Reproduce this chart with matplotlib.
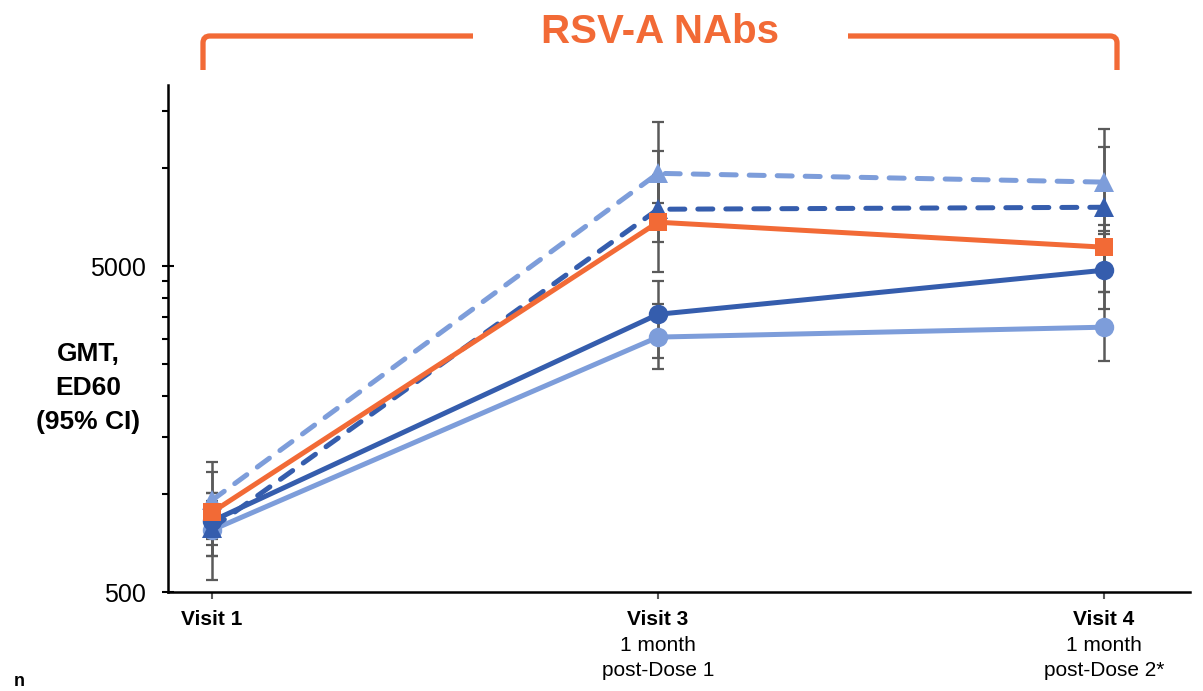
import matplotlib
matplotlib.use("Agg")
import matplotlib.pyplot as plt
from matplotlib.path import Path
from matplotlib.patches import PathPatch
from matplotlib.ticker import FixedLocator, NullFormatter

# ---------------- data ----------------
visits = ["Visit 1", "Visit 3", "Visit 4"]
visit_sub = ["", "1 month\npost-Dose 1", "1 month\npost-Dose 2*"]

# GMT values (ED60) per series
light_circle = [775, 3030, 3250]
light_circle_lo = [645, 2415, 2555]
light_circle_hi = [950, 3820, 4160]

dark_circle = [826, 3560, 4860]
dark_circle_lo = [727, 2610, 3690]
dark_circle_hi = [1006, 4500, 6400]

light_tri = [957, 9640, 9060]
light_tri_lo = [697, 7800, 6270]
light_tri_hi = [1253, 13900, 13160]

dark_tri = [785, 7480, 7585]
dark_tri_lo = [544, 5920, 5035]
dark_tri_hi = [1006, 11270, 11590]

orange_sq = [879, 6825, 5720]
orange_sq_lo = [645, 4790, 4160]
orange_sq_hi = [1167, 9500, 6680]

title = "RSV-A NAbs"
ylabel = "GMT,\nED60\n(95% CI)"
ytick_major = [500, 5000]
ytick_minor = [1000, 1500, 2000, 2500, 3000, 3500, 4000, 4500, 10000, 15000]

ORANGE = "#F26A36"
DARK = "#355DAD"
LIGHT = "#7D9DDA"
GRAY = "#5A5A5A"

plt.rcParams["font.family"] = ["Liberation Sans", "DejaVu Sans"]

W, H = 1203, 691
fig = plt.figure(figsize=(W / 100, H / 100), dpi=100)
ax = fig.add_axes([168 / W, 1 - 592 / H, (1190 - 168) / W, (592 - 85) / H])

x = list(range(len(visits)))

series = [
    (light_circle, light_circle_lo, light_circle_hi, LIGHT, "o", "-", 14),
    (dark_circle, dark_circle_lo, dark_circle_hi, DARK, "o", "-", 14),
    (light_tri, light_tri_lo, light_tri_hi, LIGHT, "^", "--", 15),
    (dark_tri, dark_tri_lo, dark_tri_hi, DARK, "^", "--", 15),
    (orange_sq, orange_sq_lo, orange_sq_hi, ORANGE, "s", "-", 13),
]

for i, (v, lo, hi, c, m, ls, ms) in enumerate(series):
    yerr = [[a - b for a, b in zip(v, lo)], [b - a for a, b in zip(v, hi)]]
    ax.errorbar(x, v, yerr=yerr, fmt="none", ecolor=GRAY, elinewidth=1.8,
                capsize=4.5, capthick=1.6, zorder=2)
for i, (v, lo, hi, c, m, ls, ms) in enumerate(series):
    line, = ax.plot(x, v, color=c, marker=m, markersize=ms, linewidth=3.6,
                    linestyle=ls, zorder=3 + i, markeredgewidth=0,
                    solid_capstyle="round", dash_capstyle="round")
    if ls == "--":
        line.set_dashes((3.0, 2.6))

ax.set_yscale("log")
ax.set_ylim(500, 18000)
ax.set_xlim(-0.099, 2.193)

ax.yaxis.set_major_locator(FixedLocator(ytick_major))
ax.yaxis.set_minor_locator(FixedLocator(ytick_minor))
ax.yaxis.set_minor_formatter(NullFormatter())
ax.set_yticklabels([str(t) for t in ytick_major])
ax.tick_params(axis="y", which="major", direction="inout", length=9, width=1.5,
               labelsize=18, pad=11.5)
ax.tick_params(axis="y", which="minor", direction="out", length=4, width=1.5)

ax.set_xticks(x)
ax.set_xticklabels([""] * len(x))
ax.tick_params(axis="x", which="major", direction="out", length=5, width=1.5,
               color=GRAY)

for s in ["top", "right"]:
    ax.spines[s].set_visible(False)
for s in ["left", "bottom"]:
    ax.spines[s].set_linewidth(1.8)

for xi, lab, sub in zip(x, visits, visit_sub):
    ax.annotate(lab, xy=(xi, 0), xycoords=("data", "axes fraction"),
                xytext=(0, -20), textcoords="offset points", ha="center",
                va="center", fontsize=15, fontweight="bold")
    if sub:
        ax.annotate(sub, xy=(xi, 0), xycoords=("data", "axes fraction"),
                    xytext=(0, -32), textcoords="offset points", ha="center",
                    va="top", fontsize=15, linespacing=1.38)

fig.text(88 / W, 1 - 388 / H, ylabel, ha="center", va="center",
         fontsize=19, fontweight="bold", multialignment="center",
         linespacing=1.55)

fig.text(660 / W, 1 - 32 / H, title, ha="center", va="center",
         fontsize=29, fontweight="bold", color=ORANGE)

fig.text(14 / W, 1 - 682 / H, "n", ha="left", va="center", fontsize=13,
         fontweight="bold")


def fx(px):
    return px / W


def fy(py):
    return 1 - py / H


r = 7
left_path = Path(
    [(fx(203), fy(70)), (fx(203), fy(36 + r)), (fx(203), fy(36)),
     (fx(203 + r), fy(36)), (fx(473), fy(36))],
    [Path.MOVETO, Path.LINETO, Path.CURVE3, Path.CURVE3, Path.LINETO])
right_path = Path(
    [(fx(848), fy(36)), (fx(1117 - r), fy(36)), (fx(1117), fy(36)),
     (fx(1117), fy(36 + r)), (fx(1117), fy(70))],
    [Path.MOVETO, Path.LINETO, Path.CURVE3, Path.CURVE3, Path.LINETO])
for p in (left_path, right_path):
    fig.add_artist(PathPatch(p, transform=fig.transFigure, facecolor="none",
                             edgecolor=ORANGE, linewidth=3.8,
                             capstyle="butt"))

fig.savefig("out.png", dpi=100)
